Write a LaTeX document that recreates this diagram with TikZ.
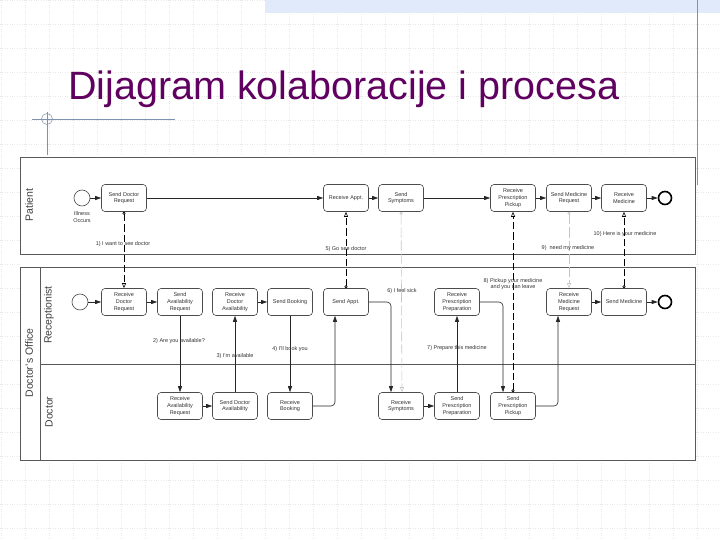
\documentclass[tikz,border=0pt]{standalone}
\usepackage{fontspec}
\setmainfont{Liberation Sans}
\usepackage{tikz}
\usetikzlibrary{arrows.meta}

\definecolor{titlepurple}{RGB}{96,0,96}
\definecolor{barblue}{RGB}{224,234,250}
\definecolor{rulegray}{RGB}{128,144,176}

\tikzset{
  task/.style={draw=black!70, line width=0.6pt, rounded corners=3.5pt, fill=white,
    minimum width=45pt, minimum height=27pt, inner sep=1pt, align=center,
    text=black!80, font=\fontsize{5.5}{6.8}\selectfont},
  startev/.style={circle, draw=black!70, line width=0.6pt, fill=white, minimum size=16pt, inner sep=0pt},
  endev/.style={circle, draw=black, line width=1.6pt, fill=white, minimum size=13pt, inner sep=0pt},
  seqflow/.style={draw=black!85, line width=0.6pt, -{Triangle[length=6pt,width=4pt]}},
  msgflow/.style={line width=0.6pt, dash pattern=on 7pt off 3pt,
    {Circle[open,length=3pt,width=3pt]}-{Triangle[open,length=5pt,width=4pt]}},
  msglabel/.style={font=\fontsize{5.5}{6.8}\selectfont, text=black!80, inner sep=0pt, align=center},
  lanelabel/.style={rotate=90, font=\fontsize{10.5}{12}\selectfont, text=black!75},
  pool/.style={draw=black!65, line width=0.8pt},
  gridline/.style={gray!18, dotted, line width=0.4pt}
}

\begin{document}
\begin{tikzpicture}[x=1pt, y=-1pt]
\useasboundingbox (0,0) rectangle (720,540);

% Slide
\fill[white] (0,0) rectangle (720,540);
\foreach \gx in {1,25,...,721} \draw[gridline] (\gx,0) -- (\gx,540);
\foreach \gy in {0,24,...,528} \draw[gridline] (0,\gy) -- (720,\gy);
\fill[barblue] (265,0) rectangle (720,13);
\draw[rulegray, line width=0.8pt] (697,0) -- (697,185);
\draw[rulegray, line width=0.6pt] (32,119) -- (175,119);
\draw[rulegray, line width=0.6pt] (47,112) -- (47,156);
\draw[rulegray, line width=0.5pt] (47,119) circle (5.5);
\node (title) [anchor=base west, inner sep=0pt, text=titlepurple,
  font=\fontsize{39.5}{44}\selectfont] at (68,100) {Dijagram kolaboracije i procesa};

% Pools and lanes
\fill[white] (20,155) rectangle (695,462);
\draw[pool] (20,157) rectangle (695,254);
\draw[pool] (20,267) rectangle (695,460);
\draw[pool] (40,267) -- (40,460);
\draw[pool] (40,364) -- (695,364);
\node (patientLbl) [lanelabel] at (29,205) {Patient};
\node (officeLbl) [lanelabel] at (29,363) {Doctor's Office};
\node (recepLbl) [lanelabel] at (49,315) {Receptionist};
\node (doctorLbl) [lanelabel] at (49,412) {Doctor};

% Patient
\node (illness) [startev] at (82,198) {};
\node (illnessLbl) [msglabel] at (82,217) {Illness\\Occurs};
\node (sendDocReq) [task] at (124,198) {Send Doctor\\Request};
\node (recvAppt) [task] at (346,198) {Receive Appt.};
\node (sendSympt) [task] at (401,198) {Send\\Symptoms};
\node (recvPickup) [task] at (513,198) {Receive\\Prescription\\Pickup};
\node (sendMedReq) [task] at (569,198) {Send Medicine\\Request};
\node (recvMed) [task] at (624,198) {Receive\\Medicine};
\node (patientEnd) [endev] at (665,198) {};

% Receptionist
\node (recepStart) [startev] at (80,302) {};
\node (recvDocReq) [task] at (124,302) {Receive\\Doctor\\Request};
\node (sendAvailReq) [task] at (180,302) {Send\\Availability\\Request};
\node (recvDocAvail) [task] at (235,302) {Receive\\Doctor\\Availability};
\node (sendBooking) [task] at (290,302) {Send Booking};
\node (sendAppt) [task] at (346,302) {Send Appt.};
\node (recvPrep) [task] at (457,302) {Receive\\Prescription\\Preparation};
\node (recvMedReq) [task] at (569,302) {Receive\\Medicine\\Request};
\node (sendMed) [task] at (624,302) {Send Medicine};
\node (recepEnd) [endev] at (665,302) {};

% Doctor
\node (recvAvailReq) [task] at (180,406) {Receive\\Availability\\Request};
\node (sendDocAvail) [task] at (235,406) {Send Doctor\\Availability};
\node (recvBooking) [task] at (290,406) {Receive\\Booking};
\node (recvSympt) [task] at (401,406) {Receive\\Symptoms};
\node (sendPrep) [task] at (457,406) {Send\\Prescription\\Preparation};
\node (sendPickup) [task] at (513,406) {Send\\Prescription\\Pickup};

% Sequence flows
\draw[seqflow] (illness) -- (sendDocReq);
\draw[seqflow] (sendDocReq) -- (recvAppt);
\draw[seqflow] (recvAppt) -- (sendSympt);
\draw[seqflow] (sendSympt) -- (recvPickup);
\draw[seqflow] (recvPickup) -- (sendMedReq);
\draw[seqflow] (sendMedReq) -- (recvMed);
\draw[seqflow] (recvMed) -- (patientEnd);

\draw[seqflow] (recepStart) -- (recvDocReq);
\draw[seqflow] (recvDocReq) -- (sendAvailReq);
\draw[seqflow] (sendAvailReq) -- (recvAvailReq);
\draw[seqflow] (recvAvailReq) -- (sendDocAvail);
\draw[seqflow] (sendDocAvail) -- (recvDocAvail);
\draw[seqflow] (recvDocAvail) -- (sendBooking);
\draw[seqflow] (sendBooking) -- (recvBooking);
\draw[seqflow, rounded corners=4pt] (recvBooking.east) -| ([xshift=-11pt]sendAppt.south);
\draw[seqflow, rounded corners=4pt] (sendAppt.east) -| ([xshift=-10pt]recvSympt.north);
\draw[seqflow] (recvSympt) -- (sendPrep);
\draw[seqflow] (sendPrep) -- (recvPrep);
\draw[seqflow, rounded corners=4pt] (recvPrep.east) -| ([xshift=-10pt]sendPickup.north);
\draw[seqflow, rounded corners=4pt] (sendPickup.east) -| ([xshift=-11pt]recvMedReq.south);
\draw[seqflow] (recvMedReq) -- (sendMed);
\draw[seqflow] (sendMed) -- (recepEnd);

% Message flows
\draw[msgflow] (sendDocReq) -- (recvDocReq);
\draw[msgflow] (sendAppt) -- (recvAppt);
\draw[msgflow, gray!45, dash pattern=on 10pt off 3pt] (sendSympt) -- ([xshift=1pt]recvSympt.north);
\draw[msgflow] (sendPickup) -- (recvPickup);
\draw[msgflow, gray!45, dash pattern=on 10pt off 3pt] (sendMedReq) -- (recvMedReq);
\draw[msgflow] (sendMed) -- (recvMed);

% Labels
\node (m1) [msglabel] at (123,244) {1) I want to see doctor};
\node (m2) [msglabel] at (179,341) {2) Are you available?};
\node (m3) [msglabel] at (235,356) {3) I'm available};
\node (m4) [msglabel] at (290,349) {4) I'll book you};
\node (m5) [msglabel] at (346,249) {5) Go see doctor};
\node (m6) [msglabel] at (402,291) {6) I feel sick};
\node (m7) [msglabel] at (457,348) {7) Prepare this medicine};
\node (m8) [msglabel] at (513,284) {8) Pickup your medicine\\and you can leave};
\node (m9) [msglabel] at (568,248) {9)\ \ need my medicine};
\node (m10) [msglabel] at (625,234) {10) Here is your medicine};

\end{tikzpicture}
\end{document}
